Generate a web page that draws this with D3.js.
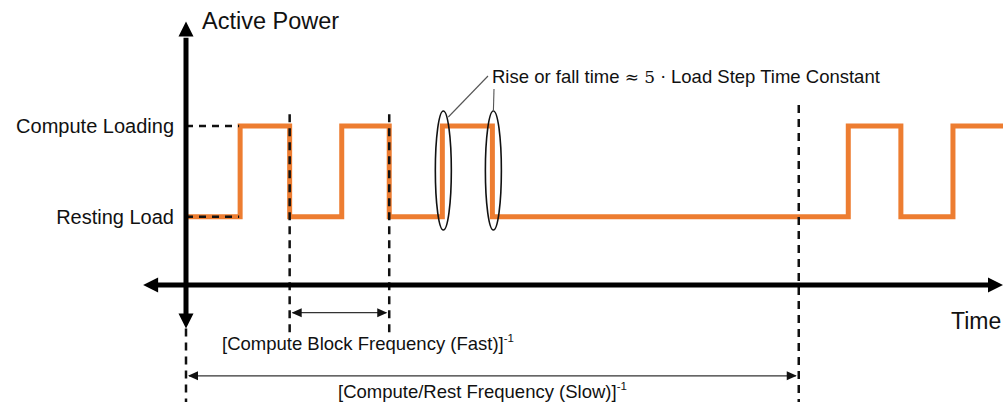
<!DOCTYPE html>
<html>
<head>
<meta charset="utf-8">
<script src="https://cdn.jsdelivr.net/npm/d3@7"></script>
<style>
  html, body { margin: 0; padding: 0; background: #fff; }
  svg { display: block; }
  text { font-family: "Liberation Sans", Arial, sans-serif; fill: #111; }
</style>
</head>
<body>
<svg id="chart" width="1006" height="402"></svg>
<script>
// Power levels (axis units above the time axis)
const levelNames = ["Resting Load", "Compute Loading"];
const levelValues = [0.75, 1.75];

// Step waveform: times where the load changes, and the state held after each time
const stepTimes  = [0, 1.06, 2.03, 3.05, 3.98, 5.02, 6.0, 12.97, 14.0, 15.02, 16.0];
const stepStates = [0, 1, 0, 1, 0, 1, 0, 1, 0, 1, 1];

// Period markers (dashed verticals) and the periods they bound
const fastPeriod = [2.03, 3.98];
const slowPeriod = [0, 12.0];
const fastLabel = "[Compute Block Frequency (Fast)]";
const slowLabel = "[Compute/Rest Frequency (Slow)]";

// Edges highlighted as finite rise / fall times
const edgeTimes = [5.02, 6.0];
const calloutText = ["Rise or fall time ", "\u2248 5 \u00b7", " Load Step Time Constant"];

const axisTitles = { y: "Active Power", x: "Time" };

const svg = d3.select("#chart");
const x = d3.scaleLinear().domain([0, 16]).range([186, 1003]);
const y = d3.scaleLinear().domain([0, 1.75]).range([285, 126]);

const orange = "#ED7D31";

// Waveform
const pts = stepTimes.map((t, i) => [t, levelValues[stepStates[i]]]);
svg.append("path")
  .datum(pts)
  .attr("d", d3.line().x(d => x(d[0])).y(d => y(d[1])).curve(d3.curveStepAfter))
  .attr("fill", "none")
  .attr("stroke", orange)
  .attr("stroke-width", 5)
  .attr("stroke-linejoin", "miter")
  .attr("stroke-linecap", "butt");

// Dashed level guides from the power axis to the first rise
svg.selectAll(".guide")
  .data(levelValues)
  .join("line")
  .attr("x1", x(0)).attr("x2", x(stepTimes[1]) - 1)
  .attr("y1", d => y(d)).attr("y2", d => y(d))
  .attr("stroke", "#111").attr("stroke-width", 2.5)
  .attr("stroke-dasharray", "7,6");

// Level labels
svg.selectAll(".lvl")
  .data(levelNames)
  .join("text")
  .attr("x", 174)
  .attr("y", (d, i) => y(levelValues[i]) + 7)
  .attr("text-anchor", "end")
  .attr("font-size", 20)
  .text(d => d);

// Dashed period markers
const markers = [
  { t: fastPeriod[0], y1: 1.88, y2: -0.52 },
  { t: fastPeriod[1], y1: 1.88, y2: -0.52 },
  { t: slowPeriod[0], y1: -0.48, y2: -1.32 },
  { t: slowPeriod[1], y1: 1.98, y2: -1.32 }
];
svg.selectAll(".marker")
  .data(markers)
  .join("line")
  .attr("x1", d => x(d.t)).attr("x2", d => x(d.t))
  .attr("y1", d => y(d.y1)).attr("y2", d => y(d.y2))
  .attr("stroke", "#111").attr("stroke-width", 2.5)
  .attr("stroke-dasharray", "8,6");

// Axes
const axisW = 5;
svg.append("line")
  .attr("x1", x(-0.7)).attr("x2", x(15.75))
  .attr("y1", y(0)).attr("y2", y(0))
  .attr("stroke", "#000").attr("stroke-width", axisW);
svg.append("line")
  .attr("x1", x(0)).attr("x2", x(0))
  .attr("y1", y(2.72)).attr("y2", y(-0.33))
  .attr("stroke", "#000").attr("stroke-width", axisW);

function arrowHead(tipX, tipY, dir, len, half) {
  // dir: "left" | "right" | "up" | "down"
  let p;
  if (dir === "left")  p = [[tipX, tipY], [tipX + len, tipY - half], [tipX + len, tipY + half]];
  if (dir === "right") p = [[tipX, tipY], [tipX - len, tipY - half], [tipX - len, tipY + half]];
  if (dir === "up")    p = [[tipX, tipY], [tipX - half, tipY + len], [tipX + half, tipY + len]];
  if (dir === "down")  p = [[tipX, tipY], [tipX - half, tipY - len], [tipX + half, tipY - len]];
  return "M" + p.map(d => d.join(",")).join("L") + "Z";
}
const heads = [
  [x(-0.84), y(0), "left"],
  [x(16.0), y(0), "right"],
  [x(0), y(2.9), "up"],
  [x(0), y(-0.48), "down"]
];
svg.selectAll(".head")
  .data(heads)
  .join("path")
  .attr("d", d => arrowHead(d[0], d[1], d[2], 15, 7.5))
  .attr("fill", "#000");

// Axis titles
svg.append("text")
  .attr("x", 202).attr("y", 29)
  .attr("font-size", 23.5)
  .text(axisTitles.y);
svg.append("text")
  .attr("x", 951).attr("y", 329)
  .attr("font-size", 23)
  .text(axisTitles.x);

// Period dimension arrows
function dimArrow(t0, t1, level) {
  const yy = y(level);
  const g = svg.append("g");
  g.append("line")
    .attr("x1", x(t0) + 3).attr("x2", x(t1) - 3)
    .attr("y1", yy).attr("y2", yy)
    .attr("stroke", "#333").attr("stroke-width", 1.2);
  g.append("path").attr("d", arrowHead(x(t0) + 2, yy, "left", 10, 4.5)).attr("fill", "#111");
  g.append("path").attr("d", arrowHead(x(t1) - 2, yy, "right", 10, 4.5)).attr("fill", "#111");
}
dimArrow(fastPeriod[0], fastPeriod[1], -0.305);
dimArrow(slowPeriod[0], slowPeriod[1], -1.0);

function periodLabel(txt, px, py) {
  const t = svg.append("text").attr("x", px).attr("y", py).attr("font-size", 18.5);
  t.append("tspan").text(txt);
  t.append("tspan").attr("font-size", 11.5).attr("dy", -8).text("-1");
}
periodLabel(fastLabel, 222, 350);
periodLabel(slowLabel, 338, 398);

// Rise/fall highlight ellipses
const span = [levelValues[0] - 0.145, levelValues[1] + 0.165];
svg.selectAll(".edge")
  .data(edgeTimes)
  .join("ellipse")
  .attr("cx", d => x(d) + 1)
  .attr("cy", (y(span[0]) + y(span[1])) / 2)
  .attr("rx", 8)
  .attr("ry", (y(span[0]) - y(span[1])) / 2)
  .attr("fill", "none")
  .attr("stroke", "#111")
  .attr("stroke-width", 1.6);

// Leader lines to the callout
const leaders = [
  [[x(edgeTimes[0]) + 6, 117], [488, 76]],
  [[x(edgeTimes[1]) + 1, 112], [494, 89]]
];
svg.selectAll(".leader")
  .data(leaders)
  .join("line")
  .attr("x1", d => d[0][0]).attr("y1", d => d[0][1])
  .attr("x2", d => d[1][0]).attr("y2", d => d[1][1])
  .attr("stroke", "#555").attr("stroke-width", 1.1);

const callout = svg.append("text").attr("x", 492).attr("y", 83).attr("font-size", 18.5);
callout.append("tspan").text(calloutText[0]);
callout.append("tspan").attr("font-family", "'DejaVu Serif', serif").attr("font-size", 17).text(calloutText[1]);
callout.append("tspan").text(calloutText[2]);
</script>
</body>
</html>
